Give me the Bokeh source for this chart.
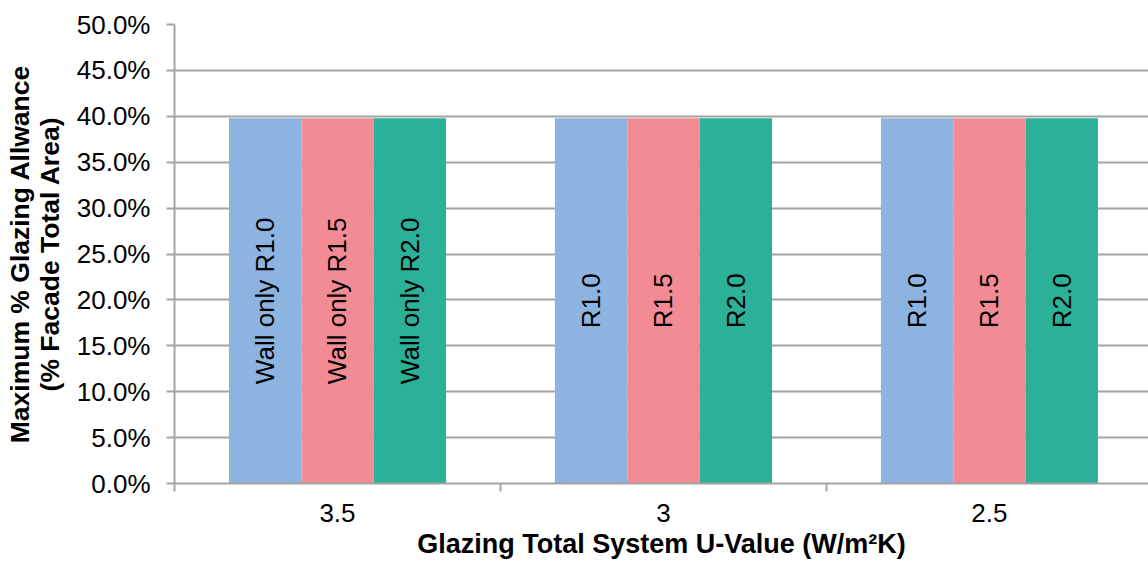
from bokeh.plotting import figure
from bokeh.models import Range1d, FixedTicker, NumeralTickFormatter, ColumnDataSource
from bokeh.core.properties import value
from bokeh.embed import file_html
from bokeh.resources import INLINE

# Data
u_values = ["3.5", "3", "2.5"]
series_names = ["R1.0", "R1.5", "R2.0"]
series_colors = ["#8db3e0", "#f38b95", "#2ab198"]
max_glazing = [
    [0.398, 0.398, 0.398],  # R1.0
    [0.398, 0.398, 0.398],  # R1.5
    [0.398, 0.398, 0.398],  # R2.0
]
bar_labels = [
    ["Wall only R1.0", "R1.0", "R1.0"],
    ["Wall only R1.5", "R1.5", "R1.5"],
    ["Wall only R2.0", "R2.0", "R2.0"],
]
y_ticks = [0.0, 0.05, 0.10, 0.15, 0.20, 0.25, 0.30, 0.35, 0.40, 0.45, 0.50]

FONT = "Liberation Sans"
GRID = "#a3a3a3"
FS = "26px"
TITLE_FS = "26.5px"

p = figure(width=1148, height=566, output_backend="svg", toolbar_location=None,
           x_range=Range1d(0, 2.988), y_range=Range1d(0, 0.5))
p.min_border_left = 174
p.min_border_right = 0
p.min_border_top = 24
p.min_border_bottom = 83
p.outline_line_color = None
p.background_fill_color = "white"
p.border_fill_color = "white"

centers = [i + 0.5 for i in range(len(u_values))]
offsets = [-0.222, 0.0, 0.222]
bar_w = 0.222

for s, name in enumerate(series_names):
    xs = [c + offsets[s] for c in centers]
    src = ColumnDataSource(dict(x=xs, top=max_glazing[s],
                                mid=[v / 2 for v in max_glazing[s]],
                                label=bar_labels[s]))
    p.vbar(x="x", top="top", bottom=0, width=bar_w, source=src,
           fill_color=series_colors[s], line_color=None)
    p.text(x="x", y="mid", text="label", source=src, angle=1.5707963,
           text_align="center", text_baseline="middle",
           text_font=value(FONT), text_font_size=FS, text_color="black")

# Y axis
p.yaxis.ticker = FixedTicker(ticks=y_ticks)
p.yaxis.formatter = NumeralTickFormatter(format="0.0%")
p.yaxis.axis_label = "Maximum % Glazing Allwance\n(% Facade Total Area)"
p.yaxis.axis_label_text_font = FONT
p.yaxis.axis_label_text_font_style = "bold"
p.yaxis.axis_label_text_font_size = TITLE_FS
p.yaxis.axis_label_text_color = "black"
p.yaxis.axis_label_text_line_height = 1.0
p.yaxis.axis_label_standoff = 9
p.yaxis.major_label_text_font = FONT
p.yaxis.major_label_text_font_size = FS
p.yaxis.major_label_text_color = "black"
p.yaxis.major_label_standoff = 16
p.yaxis.major_tick_out = 8
p.yaxis.major_tick_in = 0
p.yaxis.minor_tick_line_color = None
p.yaxis.axis_line_color = GRID
p.yaxis.axis_line_width = 2
p.yaxis.major_tick_line_color = GRID
p.yaxis.major_tick_line_width = 2

# X axis: labels at group centres, ticks at group boundaries
p.xaxis.ticker = FixedTicker(ticks=centers, minor_ticks=[0, 1, 2, 3])
p.xaxis.major_label_overrides = {c: lab for c, lab in zip(centers, u_values)}
p.xaxis.axis_label = "Glazing Total System U-Value (W/m\u00b2K)"
p.xaxis.axis_label_text_font = FONT
p.xaxis.axis_label_text_font_style = "bold"
p.xaxis.axis_label_text_font_size = "27px"
p.xaxis.axis_label_text_color = "black"
p.xaxis.axis_label_standoff = 4
p.xaxis.major_label_text_font = FONT
p.xaxis.major_label_text_font_size = FS
p.xaxis.major_label_text_color = "black"
p.xaxis.major_label_standoff = 12
p.xaxis.major_tick_line_color = None
p.xaxis.major_tick_out = 8
p.xaxis.minor_tick_out = 8
p.xaxis.minor_tick_in = 0
p.xaxis.minor_tick_line_color = GRID
p.xaxis.minor_tick_line_width = 2
p.xaxis.axis_line_color = GRID
p.xaxis.axis_line_width = 2

# Grid
p.xgrid.grid_line_color = None
p.ygrid.ticker = FixedTicker(ticks=y_ticks)
p.ygrid.grid_line_color = GRID
p.ygrid.grid_line_width = 2

open("out.html", "w").write(file_html(p, INLINE))
